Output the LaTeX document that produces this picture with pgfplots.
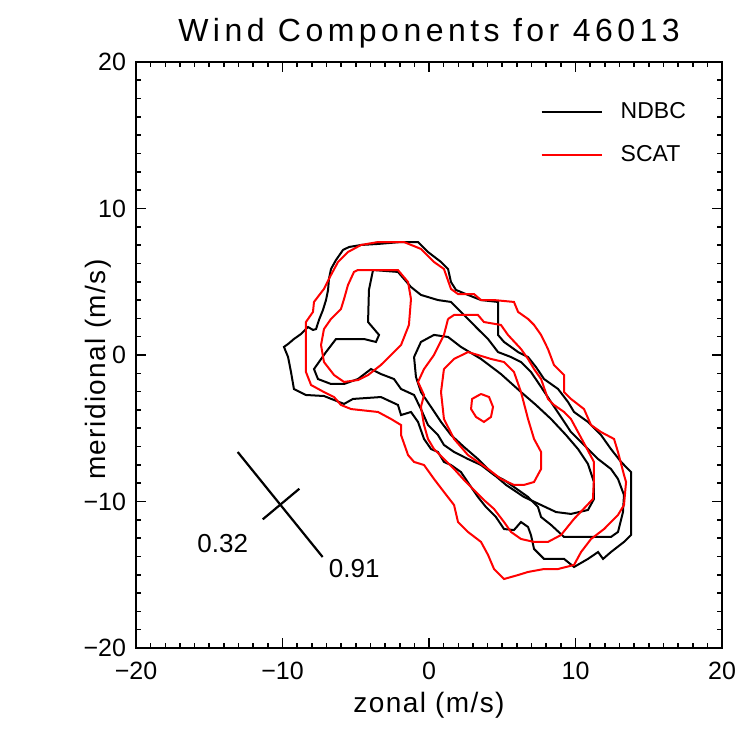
\documentclass[border=0pt]{standalone}
\usepackage{fontspec}
\setmainfont{Liberation Sans}
\usepackage{pgfplots}
\pgfplotsset{compat=1.18}

\begin{document}
\begin{tikzpicture}
\begin{axis}[
    name=ax,
    width=293pt, height=293pt, scale only axis,
    xmin=-20, xmax=20, ymin=-20, ymax=20,
    xtick={-20,-10,0,10,20}, ytick={-20,-10,0,10,20},
    xticklabels={−20,−10,0,10,20}, yticklabels={−20,−10,0,10,20},
    minor x tick num=9, minor y tick num=7,
    tick align=inside, major tick length=5pt, minor tick length=2.5pt,
    every tick/.style={black, line width=0.8pt},
    axis line style={line width=1pt},
    tick label style={font=\fontsize{12.5}{14}\selectfont},
    xticklabel style={anchor=base, yshift=-16pt},
    yticklabel style={anchor=east, xshift=-1.5pt},
    title={\addfontfeatures{LetterSpace=14}Wind Components for 46013},
    title style={font=\fontsize{16}{18}\selectfont, at={(0.5,1)}, anchor=base, yshift=4pt},
    xlabel={\addfontfeatures{LetterSpace=5}zonal (m/s)},
    xlabel style={font=\fontsize{14}{16}\selectfont, at={(axis description cs:0.5,0)}, anchor=base, yshift=-32.5pt},
    ylabel={\addfontfeatures{LetterSpace=5}meridional (m/s)},
    ylabel style={font=\fontsize{14}{16}\selectfont, at={(axis description cs:-0.065,0.475)}, anchor=center},
    legend style={draw=none, fill=none, at={(axis cs:7.6,15.1)}, anchor=west,
        font=\fontsize{11.5}{13}\selectfont, row sep=8pt, inner sep=0pt},
    legend image code/.code={\draw[#1] (0pt,0pt) -- (30pt,0pt); \path (37pt,0pt);},
    legend cell align=left,
]
% NDBC, outer
\addplot[black, line width=1pt] coordinates {
(-9.62,0.75) (-9.22,1.09) (-8.74,1.43) (-8.26,1.91) (-7.92,1.71) (-7.71,1.77)
(-7.51,2.39) (-7.24,3.07) (-7.03,3.75) (-6.89,4.44) (-6.83,5.19) (-6.69,5.87)
(-6.35,6.48) (-5.87,7.17) (-5.46,7.37) (-4.64,7.51) (-3.48,7.58) (-1.91,7.71)
(-0.75,7.71) (-0.07,7.03) (0.82,6.35) (1.30,5.87) (1.50,4.98) (1.84,4.44)
(2.66,4.10) (3.55,3.75) (4.71,3.62) (4.71,1.37) (5.12,0.89) (5.60,0.55)
(6.08,0.20) (6.76,-0.14) (7.30,-0.82) (7.85,-1.64) (8.81,-2.32) (9.49,-3.21)
(9.90,-3.89) (10.85,-4.57) (11.74,-5.46) (12.42,-6.42) (13.11,-7.30) (13.79,-7.99)
(13.79,-12.29) (13.31,-12.76) (12.42,-13.45) (11.88,-13.92) (11.54,-13.45) (10.85,-13.92)
(9.90,-14.47) (9.22,-13.92) (7.85,-13.92) (7.17,-13.24) (6.96,-12.29) (6.76,-11.74)
(6.28,-11.40) (5.80,-11.95) (5.12,-11.88) (4.57,-11.06) (3.89,-10.38) (3.34,-9.69)
(2.87,-9.01) (2.18,-7.99) (1.50,-7.51) (1.02,-7.30) (0.61,-6.62) (0.14,-6.42)
(-0.34,-5.73) (-0.75,-4.57) (-1.23,-3.89) (-1.91,-4.10) (-2.12,-3.41) (-3.28,-2.87)
(-5.19,-3.00) (-5.80,-3.34) (-7.17,-2.80) (-8.40,-2.73) (-9.22,-2.32) (-9.42,-1.16)
(-9.62,-0.14) (-9.90,0.55) (-9.62,0.75)
};
\addlegendentry{NDBC}
% NDBC, second level
\addplot[black, line width=1pt, forget plot] coordinates {
(-3.82,5.80) (-4.10,4.44) (-4.16,2.25) (-3.41,1.37) (-3.62,0.89) (-4.44,1.09)
(-5.53,1.09) (-6.35,1.09) (-7.03,0.20) (-7.85,-0.96) (-7.58,-1.64) (-6.69,-1.98)
(-5.80,-1.98) (-4.85,-1.64) (-3.96,-0.96) (-3.28,-1.30) (-2.39,-1.64) (-1.91,-2.32)
(-1.02,-2.73) (-0.55,-3.69) (-0.07,-4.78) (0.61,-5.46) (1.02,-6.14) (1.71,-6.62)
(2.66,-7.10) (3.55,-7.51) (4.44,-8.19) (5.12,-8.53) (5.80,-9.01) (6.76,-9.69)
(7.44,-10.38) (7.65,-11.06) (8.33,-11.60) (9.22,-12.42) (11.26,-12.42) (12.42,-12.42)
(12.90,-12.08) (13.24,-10.72) (13.31,-9.56) (12.90,-8.46) (12.42,-7.78) (11.54,-7.10)
(10.72,-6.28) (9.69,-5.26) (9.01,-4.23) (8.33,-3.21) (7.65,-2.18) (6.96,-1.16)
(6.28,-0.48) (5.60,-0.14) (4.71,0.20) (4.03,1.09) (3.34,1.77) (2.66,2.46)
(2.18,2.94) (1.50,3.62) (0.61,3.75) (-0.55,4.10) (-1.23,4.64) (-2.12,5.67)
(-3.82,5.80)
};
% NDBC, third level
\addplot[black, line width=1pt, forget plot] coordinates {
(-1.02,-0.14) (-0.55,0.89) (0.34,1.37) (1.30,1.23) (2.18,0.55) (3.55,-0.27)
(4.91,-1.30) (6.28,-2.53) (7.30,-3.41) (8.33,-4.37) (9.35,-5.46) (10.17,-6.42)
(10.85,-7.44) (11.26,-8.67) (11.26,-9.83) (10.85,-10.58) (9.69,-10.85) (8.67,-10.72)
(7.65,-10.24) (6.48,-9.69) (5.26,-8.87) (4.23,-7.99) (3.34,-7.10) (2.39,-6.28)
(1.50,-5.46) (0.82,-4.57) (0.14,-3.55) (-0.55,-2.53) (-0.89,-1.50) (-1.02,-0.14)
};
% SCAT, outer
\addplot[red, line width=1pt] coordinates {
(-4.64,7.51) (-3.48,7.71) (-1.71,7.71) (-0.55,7.24) (0.34,6.35) (1.02,5.87)
(1.50,4.51) (1.98,4.16) (3.07,4.16) (3.55,3.75) (4.44,3.75) (5.80,3.62)
(6.08,2.94) (6.76,2.46) (7.17,2.05) (7.65,1.37) (8.12,0.41) (8.53,-0.68)
(9.22,-1.37) (9.22,-2.53) (9.69,-3.00) (10.58,-3.69) (11.06,-4.78) (11.74,-5.26)
(12.63,-5.73) (12.90,-6.62) (13.31,-8.19) (13.45,-8.67) (13.31,-10.24) (12.90,-10.92)
(11.95,-11.88) (11.06,-12.56) (10.38,-13.45) (9.90,-14.33) (8.81,-14.61) (7.85,-14.61)
(6.76,-14.81) (6.08,-15.02) (5.12,-15.29) (4.44,-14.61) (4.03,-13.65) (3.55,-12.76)
(2.66,-12.08) (1.98,-11.40) (1.71,-10.24) (1.02,-9.35) (0.34,-8.46) (-0.34,-7.51)
(-1.02,-7.30) (-1.43,-6.83) (-1.91,-5.46) (-1.91,-4.78) (-2.59,-4.37) (-3.48,-3.89)
(-5.32,-3.69) (-6.01,-3.41) (-6.48,-2.87) (-7.17,-2.53) (-8.05,-2.05) (-8.40,-1.16)
(-8.40,0.41) (-8.40,1.57) (-8.40,2.25) (-7.92,2.94) (-7.85,3.62) (-7.17,4.51)
(-6.69,5.46) (-6.21,6.35) (-5.53,7.03) (-4.64,7.51)
};
\addlegendentry{SCAT}
% SCAT, second level (north-west lobe)
\addplot[red, line width=1pt, forget plot] coordinates {
(-4.85,5.80) (-2.12,5.80) (-1.43,4.98) (-1.23,3.82) (-1.37,2.05) (-1.91,0.68)
(-2.39,0.20) (-3.28,-0.68) (-4.16,-1.37) (-4.85,-1.71) (-5.80,-1.84) (-6.48,-1.37)
(-7.17,-0.48) (-7.37,0.68) (-7.17,1.77) (-6.69,2.46) (-6.01,3.14) (-5.80,3.82)
(-5.53,4.78) (-5.12,5.67) (-4.85,5.80)
};
% SCAT, second level (main)
\addplot[red, line width=1pt, forget plot] coordinates {
(1.30,2.46) (1.71,2.73) (3.34,2.73) (3.75,2.25) (4.91,2.05) (5.39,1.37)
(6.28,0.41) (6.76,-0.27) (7.17,-0.96) (7.65,-1.64) (8.12,-3.00) (8.53,-3.41)
(9.22,-3.89) (9.69,-4.37) (10.17,-5.26) (10.72,-6.28) (11.26,-7.30) (11.26,-8.46)
(11.19,-9.83) (9.90,-11.19) (9.01,-12.29) (8.12,-12.76) (7.17,-12.76) (6.28,-12.56)
(5.60,-12.08) (5.12,-11.40) (4.44,-10.51) (3.75,-9.90) (3.07,-9.22) (2.39,-8.53)
(1.71,-7.78) (1.02,-7.10) (0.34,-6.42) (-0.07,-5.73) (-0.34,-4.78) (-0.55,-3.55)
(-0.34,-2.73) (-0.75,-1.84) (-0.34,-0.96) (0.34,0.00) (1.02,1.37) (1.30,2.46)
};
% SCAT, third level
\addplot[red, line width=1pt, forget plot] coordinates {
(1.02,-0.96) (1.71,-0.27) (2.66,0.20) (3.34,0.00) (4.23,-0.27) (5.12,-0.48)
(5.80,-1.16) (6.28,-2.53) (6.76,-4.37) (7.17,-5.73) (7.65,-6.62) (7.65,-7.78)
(7.17,-8.67) (6.48,-8.87) (5.80,-8.87) (4.91,-8.46) (4.03,-7.78) (2.66,-6.83)
(1.71,-5.73) (1.02,-4.37) (0.82,-2.53) (1.02,-0.96)
};
% SCAT, fourth level
\addplot[red, line width=1pt, forget plot] coordinates {
(3.55,-2.66) (4.10,-2.87) (4.37,-3.55) (4.23,-4.23) (3.75,-4.57) (3.21,-4.23)
(2.87,-3.69) (2.94,-3.00) (3.55,-2.66)
};
% principal axes cross
\addplot[black, line width=1.1pt, forget plot] coordinates {(-13.06,-6.62) (-7.26,-13.79)};
\addplot[black, line width=1.1pt, forget plot] coordinates {(-11.35,-11.22) (-8.85,-9.13)};
\node[font=\fontsize{13}{15}\selectfont] at (axis cs:-14.08,-12.88) {0.32};
\node[font=\fontsize{13}{15}\selectfont] at (axis cs:-5.10,-14.59) {0.91};
\end{axis}
\path ([xshift=-68pt,yshift=-44pt]ax.south west) rectangle ([xshift=11pt,yshift=31pt]ax.north east);
\end{tikzpicture}
\end{document}
